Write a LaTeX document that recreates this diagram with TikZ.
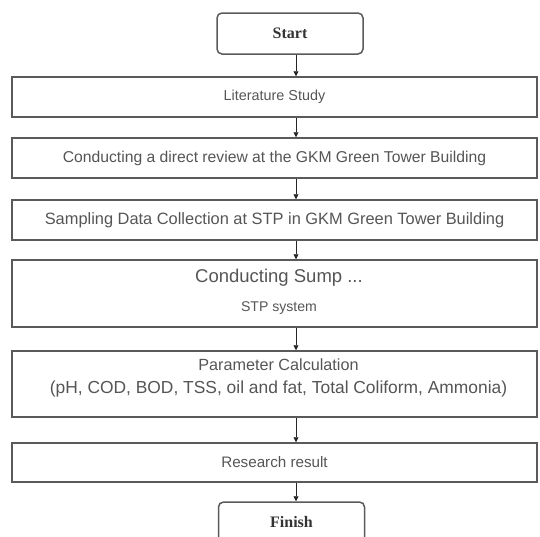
\documentclass[tikz,border=0pt]{standalone}
\usepackage{fontspec}
\setmainfont{Liberation Serif}
\setsansfont{Liberation Sans}
\usepackage{xcolor}
\usepackage{tikz}
\usetikzlibrary{calc,arrows.meta,positioning}
\definecolor{boxline}{HTML}{5a5a5a}
\definecolor{txtgray}{HTML}{555555}
\tikzset{
  terminal/.style={draw=boxline, line width=1.5pt, rounded corners=5pt, minimum width=146pt, minimum height=41pt, inner sep=0pt, font=\fontsize{16}{19}\selectfont\bfseries, text=black!80},
  stepbox/.style={draw=boxline, line width=1.5pt, minimum width=525pt, inner sep=0pt, font=\sffamily, text=txtgray},
  steptext/.style={anchor=base, inner sep=0pt, text=txtgray},
  flow/.style={-{Triangle[length=5pt,width=5pt]}, line width=0.8pt, black!85}
}

\begin{document}
\begin{tikzpicture}[x=1pt, y=-1pt]
\useasboundingbox (0,0) rectangle (540,536);
\coordinate (ax) at (296,0);
\node[terminal] (start) at (290,33.5) {Start};
\node[stepbox, minimum height=40pt, font=\sffamily\fontsize{14.4}{17}\selectfont] (lit) at (274.5,97) {Literature Study};
\node[stepbox, minimum height=40pt, font=\sffamily\fontsize{15.7}{18}\selectfont] (review) at (274.5,158) {Conducting a direct review at the GKM Green Tower Building};
\node[stepbox, minimum height=40pt, font=\sffamily\fontsize{16.4}{19}\selectfont] (sampling) at (274.5,220) {Sampling Data Collection at STP in GKM Green Tower Building};
\node[stepbox, minimum height=67pt] (sump) at (274.5,293.5) {};
\node[steptext, font=\sffamily\fontsize{18.5}{22}\selectfont] (sumpA) at ($(sump.north)+(4.5,23.5)$) {Conducting Sump ...};
\node[steptext, font=\sffamily\fontsize{14.1}{17}\selectfont] (sumpB) at ($(sump.north)+(4.5,52)$) {STP system};
\node[stepbox, minimum height=66pt] (param) at (274.5,384) {};
\node[steptext, font=\sffamily\fontsize{16.2}{19}\selectfont] (paramA) at ($(param.north)+(4,20)$) {Parameter Calculation};
\node[steptext, font=\sffamily\fontsize{17.4}{20}\selectfont] (paramB) at ($(param.north)+(4,43.5)$) {(pH, COD, BOD, TSS, oil and fat, Total Coliform, Ammonia)};
\node[stepbox, minimum height=39pt, font=\sffamily\fontsize{15.2}{18}\selectfont] (result) at (274.5,462.5) {Research result};
\node[terminal] (finish) at (291.5,522.5) {Finish};
% arrows
\foreach \a/\b in {start/lit, lit/review, review/sampling, sampling/sump, sump/param, param/result, result/finish} {
  \draw[flow] (\a.south -| ax) -- (\b.north -| ax);
}
\end{tikzpicture}
\end{document}
